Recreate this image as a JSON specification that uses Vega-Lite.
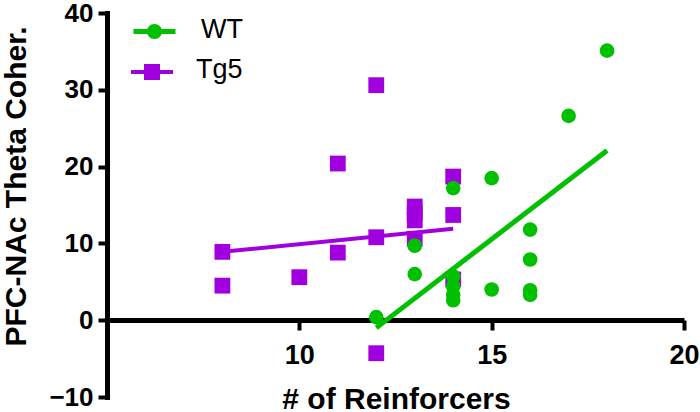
{
  "$schema": "https://vega.github.io/schema/vega-lite/v6.json",
  "width": 577,
  "height": 384,
  "autosize": {"type": "none"},
  "padding": {"left": 107, "top": 13, "right": 16, "bottom": 15},
  "background": "white",
  "config": {"view": {"stroke": null}, "font": "Liberation Sans"},
  "datasets": {
    "points": [
      {"genotype": "Tg5", "reinforcers": 8, "coherence": 8.9},
      {"genotype": "Tg5", "reinforcers": 8, "coherence": 4.5},
      {"genotype": "Tg5", "reinforcers": 10, "coherence": 5.6},
      {"genotype": "Tg5", "reinforcers": 11, "coherence": 8.8},
      {"genotype": "Tg5", "reinforcers": 11, "coherence": 20.4},
      {"genotype": "Tg5", "reinforcers": 12, "coherence": 30.6},
      {"genotype": "Tg5", "reinforcers": 12, "coherence": 10.8},
      {"genotype": "Tg5", "reinforcers": 12, "coherence": -4.3},
      {"genotype": "Tg5", "reinforcers": 13, "coherence": 14.8},
      {"genotype": "Tg5", "reinforcers": 13, "coherence": 13.9},
      {"genotype": "Tg5", "reinforcers": 13, "coherence": 13.0},
      {"genotype": "Tg5", "reinforcers": 13, "coherence": 10.6},
      {"genotype": "Tg5", "reinforcers": 14, "coherence": 18.7},
      {"genotype": "Tg5", "reinforcers": 14, "coherence": 13.7},
      {"genotype": "Tg5", "reinforcers": 14, "coherence": 5.3},
      {"genotype": "WT", "reinforcers": 12, "coherence": 0.4},
      {"genotype": "WT", "reinforcers": 13, "coherence": 9.7},
      {"genotype": "WT", "reinforcers": 13, "coherence": 6.0},
      {"genotype": "WT", "reinforcers": 14, "coherence": 17.2},
      {"genotype": "WT", "reinforcers": 14, "coherence": 5.7},
      {"genotype": "WT", "reinforcers": 14, "coherence": 4.4},
      {"genotype": "WT", "reinforcers": 14, "coherence": 3.3},
      {"genotype": "WT", "reinforcers": 14, "coherence": 2.6},
      {"genotype": "WT", "reinforcers": 15, "coherence": 18.5},
      {"genotype": "WT", "reinforcers": 15, "coherence": 4.0},
      {"genotype": "WT", "reinforcers": 16, "coherence": 11.8},
      {"genotype": "WT", "reinforcers": 16, "coherence": 7.9},
      {"genotype": "WT", "reinforcers": 16, "coherence": 3.9},
      {"genotype": "WT", "reinforcers": 16, "coherence": 3.3},
      {"genotype": "WT", "reinforcers": 17, "coherence": 26.6},
      {"genotype": "WT", "reinforcers": 18, "coherence": 35.1}
    ],
    "fits": [
      {"genotype": "Tg5", "reinforcers": 8, "coherence": 8.9},
      {"genotype": "Tg5", "reinforcers": 14, "coherence": 11.9},
      {"genotype": "WT", "reinforcers": 12, "coherence": -1.0},
      {"genotype": "WT", "reinforcers": 18, "coherence": 22.1}
    ]
  },
  "encoding": {
    "x": {
      "field": "reinforcers",
      "type": "quantitative",
      "scale": {"domain": [5, 20], "nice": false, "zero": false},
      "axis": {
        "values": [10, 15, 20],
        "title": "# of Reinforcers",
        "titleFontSize": 30,
        "titleFontWeight": "bold",
        "titleColor": "black",
        "titleX": 289,
        "titleY": 88,
        "titleBaseline": "alphabetic",
        "titleAlign": "center",
        "labelFontSize": 27,
        "labelFontWeight": "bold",
        "labelColor": "black",
        "labelPadding": 12,
        "labelFlush": false,
        "labelOverlap": false,
        "tickSize": 10,
        "tickWidth": 4,
        "tickColor": "black",
        "domainColor": "black",
        "domainWidth": 5,
        "offset": -77,
        "grid": false
      }
    },
    "y": {
      "field": "coherence",
      "type": "quantitative",
      "scale": {"domain": [-10, 40], "nice": false, "zero": false},
      "axis": {
        "values": [-10, 0, 10, 20, 30, 40],
        "title": "PFC-NAc Theta Coher.",
        "titleFontSize": 30,
        "titleFontWeight": "bold",
        "titleColor": "black",
        "titleX": -82,
        "titleY": 173,
        "titleAngle": 270,
        "titleBaseline": "alphabetic",
        "titleAlign": "center",
        "labelFontSize": 26,
        "labelFontWeight": "bold",
        "labelColor": "black",
        "labelPadding": 5,
        "tickSize": 9,
        "tickWidth": 4,
        "tickColor": "black",
        "domainColor": "black",
        "domainWidth": 5,
        "domainCap": "square",
        "grid": false
      }
    }
  },
  "layer": [
    {
      "data": {"name": "points"},
      "transform": [{"filter": "datum.genotype === 'Tg5'"}],
      "mark": {"type": "point", "filled": true, "opacity": 1, "size": 250, "shape": "square"},
      "encoding": {
        "color": {
          "field": "genotype",
          "type": "nominal",
          "scale": {"domain": ["WT", "Tg5"], "range": ["#00C000", "#A000DD"]},
          "legend": {
            "values": ["WT"],
            "title": null,
            "orient": "none",
            "legendX": 24,
            "legendY": -5,
            "symbolType": "M-1,-0.12H-0.3V0.12H-1Z M0.3,-0.12H1V0.12H0.3Z M0.357,0A0.357,0.357,0,1,1,-0.357,0A0.357,0.357,0,1,1,0.357,0Z",
            "symbolSize": 1764,
            "symbolStrokeWidth": 0,
            "symbolOpacity": 1,
            "labelFontSize": 27,
            "labelColor": "black",
            "labelOffset": 23,
            "padding": 0,
            "encode": {"labels": {"update": {"dy": {"value": -2}}}}
          }
        }
      }
    },
    {
      "data": {"name": "points"},
      "transform": [{"filter": "datum.genotype === 'WT'"}],
      "mark": {"type": "point", "filled": true, "opacity": 1, "size": 215, "shape": "circle"},
      "encoding": {
        "color": {"field": "genotype", "type": "nominal"}
      }
    },
    {
      "data": {"name": "fits"},
      "mark": {"type": "line"},
      "encoding": {
        "detail": {"field": "genotype", "type": "nominal"},
        "stroke": {
          "field": "genotype",
          "type": "nominal",
          "scale": {"domain": ["Tg5", "WT"], "range": ["#A000DD", "#00C000"]},
          "legend": {
            "values": ["Tg5"],
            "title": null,
            "orient": "none",
            "legendX": 24,
            "legendY": 38,
            "symbolType": "M-1,-0.1H1V0.1H-1Z M-0.38,-0.38H0.38V0.38H-0.38Z",
            "symbolSize": 1764,
            "symbolStrokeWidth": 0,
            "symbolFillColor": "#A000DD",
            "symbolOpacity": 1,
            "labelFontSize": 27,
            "labelColor": "black",
            "labelOffset": 23,
            "padding": 0,
            "encode": {"labels": {"update": {"dy": {"value": -2}}}}
          }
        },
        "strokeWidth": {
          "field": "genotype",
          "type": "nominal",
          "scale": {"domain": ["WT", "Tg5"], "range": [5, 4]},
          "legend": null
        }
      }
    }
  ]
}
